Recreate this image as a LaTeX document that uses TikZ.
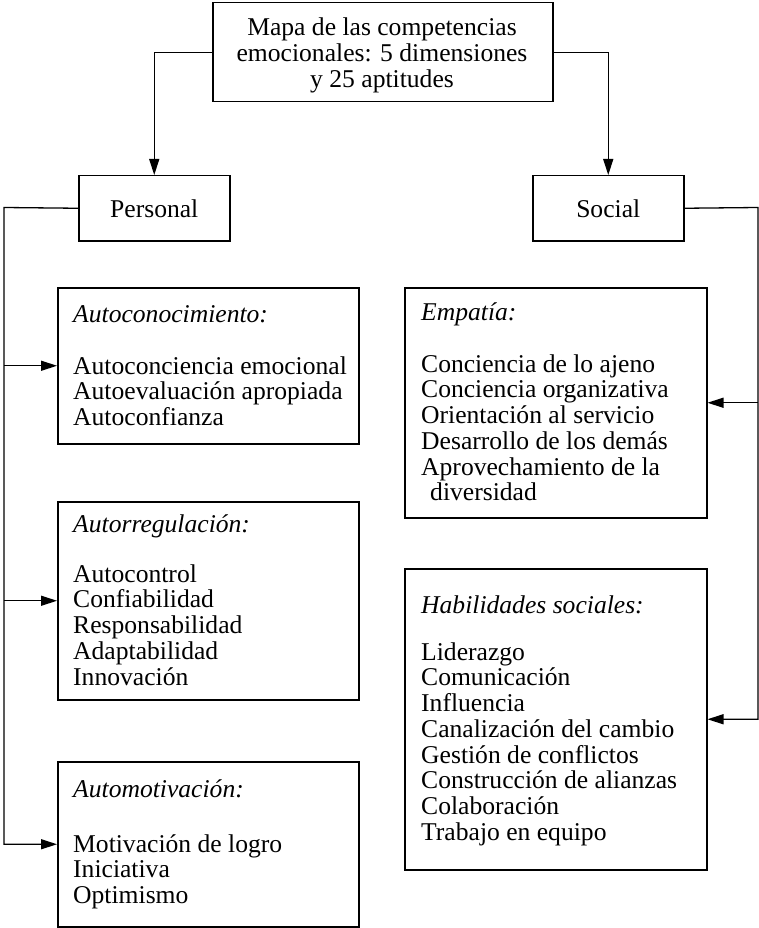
\documentclass[tikz,border=0pt]{standalone}
\usepackage{fontspec}
\setmainfont{Liberation Serif}
\usetikzlibrary{arrows.meta}
\begin{document}
\begin{tikzpicture}[x=1pt,y=-1pt,
  box/.style={draw, line width=1.5pt, inner sep=0pt, anchor=north west},
  txt/.style={inner sep=0pt, anchor=north west, align=left, font=\fontsize{25.6}{25.7}\selectfont},
  ctxt/.style={inner sep=0pt, anchor=north, align=center, font=\fontsize{25.6}{26.2}\selectfont},
  conn/.style={line width=1.3pt},
  arr/.style={conn, -{Triangle[length=16pt,width=10pt]}}]
\useasboundingbox (0,0) rectangle (759,928);
% boxes
\node[box, minimum width=340pt, minimum height=99pt] (title) at (212,2) {};
\node[box, minimum width=151pt, minimum height=65pt, font=\fontsize{25.6}{25.7}\selectfont] (personal) at (78,175) {Personal};
\node[box, minimum width=151pt, minimum height=65pt, font=\fontsize{25.6}{25.7}\selectfont] (social) at (532,175) {Social};
\node[box, minimum width=301pt, minimum height=156pt] (autocon) at (57,287) {};
\node[box, minimum width=301pt, minimum height=198pt] (autorreg) at (57,501) {};
\node[box, minimum width=301pt, minimum height=165pt] (automot) at (57,761) {};
\node[box, minimum width=302pt, minimum height=230pt] (empatia) at (404,287) {};
\node[box, minimum width=302pt, minimum height=301pt] (habil) at (404,568) {};
% texts
\node[ctxt] (title-t) at (382,13) {\rule{0pt}{22pt}Mapa de las competencias\\emocionales: 5 dimensiones\\y 25 aptitudes};
\node[txt] (autocon-t) at (73,300) {\rule{0pt}{22pt}\textit{Autoconocimiento:}\\[26.3pt]Autoconciencia emocional\\Autoevaluación apropiada\\Autoconfianza};
\node[txt] (autorreg-t) at (73,510) {\rule{0pt}{22pt}\textit{Autorregulación:}\\[24.3pt]Autocontrol\\Confiabilidad\\Responsabilidad\\Adaptabilidad\\Innovación};
\node[txt] (automot-t) at (73,775) {\rule{0pt}{22pt}\textit{Automotivación:}\\[29.3pt]Motivación de logro\\Iniciativa\\Optimismo};
\node[txt] (empatia-t) at (421,298) {\rule{0pt}{22pt}\textit{Empatía:}\\[26.3pt]Conciencia de lo ajeno\\Conciencia organizativa\\Orientación al servicio\\Desarrollo de los demás\\Aprovechamiento de la\\\hspace*{9pt}diversidad};
\node[txt] (habil-t) at (421,591) {\rule{0pt}{22pt}\textit{Habilidades sociales:}\\[21.3pt]Liderazgo\\Comunicación\\Influencia\\Canalización del cambio\\Gestión de conflictos\\Construcción de alianzas\\Colaboración\\Trabajo en equipo};
% connectors
\coordinate (lcorner) at (4,207.5);
\coordinate (rcorner) at (758,207.5);
\draw[arr] (title.west) -| (personal.north);
\draw[arr] (title.east) -| (social.north);
\draw[arr] (personal.west) -- (lcorner) |- (automot.west);
\draw[arr] (lcorner |- autocon.west) -- (autocon.west);
\draw[arr] (lcorner |- autorreg.west) -- (autorreg.west);
\draw[arr] (social.east) -- (rcorner) |- (habil.east);
\draw[arr] (rcorner |- empatia.east) -- (empatia.east);
\end{tikzpicture}
\end{document}
